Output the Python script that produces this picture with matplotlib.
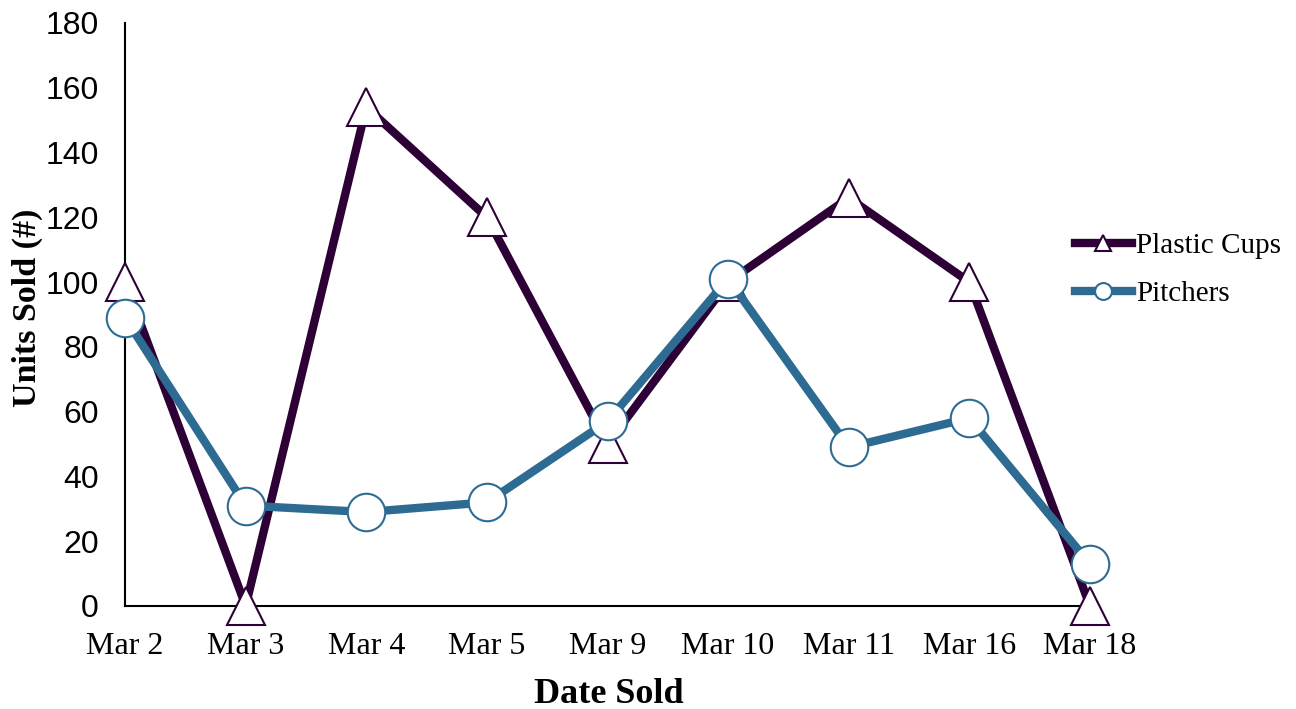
"""
Units sold per day: plastic cups vs pitchers, line chart with markers.
"""

from matplotlib import pyplot as plt

DATES = ["Mar 2", "Mar 3", "Mar 4", "Mar 5", "Mar 9", "Mar 10", "Mar 11", "Mar 16", "Mar 18"]
PLASTIC_CUPS = [100, 0, 154, 120, 50, 100, 126, 100, 0]
PITCHERS = [89, 31, 29, 32, 57, 101, 49, 58, 13]
Y_TICKS = [0, 20, 40, 60, 80, 100, 120, 140, 160, 180]

CUPS_COLOR = "#2d0036"
PITCHER_COLOR = "#2e6b93"
SERIF = "Liberation Serif"
SANS = "Liberation Sans"


def plot() -> None:
    fig = plt.figure(figsize=(12.96, 7.09), dpi=100)
    ax = fig.add_axes([0.0965, 0.1453, 0.7445, 0.8223])

    x = list(range(len(DATES)))
    ax.plot(
        x, PLASTIC_CUPS, color=CUPS_COLOR, linewidth=6, marker="^", markersize=27,
        markerfacecolor="white", markeredgecolor=CUPS_COLOR, markeredgewidth=1.5,
        label="Plastic Cups", clip_on=False, zorder=3,
    )
    ax.plot(
        x, PITCHERS, color=PITCHER_COLOR, linewidth=6, marker="o", markersize=27,
        markerfacecolor="white", markeredgecolor=PITCHER_COLOR, markeredgewidth=1.5,
        label="Pitchers", clip_on=False, zorder=4,
    )

    ax.set_xlim(0, len(DATES) - 1)
    ax.set_ylim(0, 180)
    ax.set_xticks(x)
    ax.set_xticklabels(DATES, fontsize=23, family=SERIF)
    ax.set_yticks(Y_TICKS)
    ax.set_yticklabels([str(v) for v in Y_TICKS], fontsize=23, family=SANS)
    ax.tick_params(axis="both", length=0)
    ax.tick_params(axis="y", pad=19)
    ax.tick_params(axis="x", pad=18.5)

    # only left and bottom axis lines, like the spreadsheet chart
    for side in ("top", "right"):
        ax.spines[side].set_visible(False)
    for side in ("left", "bottom"):
        ax.spines[side].set_linewidth(1.5)
        ax.spines[side].set_zorder(2)

    fig.text(0.47, 0.008, "Date Sold", ha="center", va="baseline",
             fontsize=26, fontweight="bold", family=SERIF)
    fig.text(0.021, 0.566, "Units Sold (#)", ha="center", va="center", rotation=90,
             fontsize=24.5, fontweight="bold", family=SERIF)

    ax.legend(
        loc="center left", bbox_to_anchor=(0.8295, 0.619), bbox_transform=fig.transFigure,
        frameon=False, prop={"family": SERIF, "size": 21}, markerscale=0.45,
        handlelength=1.95, handletextpad=0.15, labelspacing=0.75,
        borderpad=0, borderaxespad=0,
    )

    fig.savefig("out.png", dpi=100)


if __name__ == "__main__":
    plot()
